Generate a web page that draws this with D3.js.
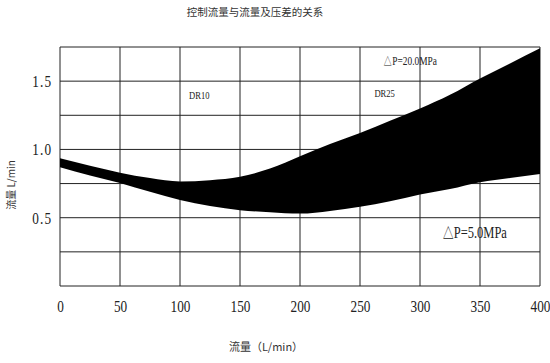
<!DOCTYPE html>
<html lang="zh">
<head>
<meta charset="utf-8">
<title>控制流量与流量及压差的关系</title>
<script src="https://d3js.org/d3.v7.min.js"></script>
<style>
  body { margin: 0; background: #fff; }
  .num { font-family: "Liberation Serif", serif; fill: #222; }
  .cjk { font-family: "Noto Sans CJK SC", sans-serif; fill: #333; }
</style>
</head>
<body>
<div id="chart"></div>
<script>
// flow (L/min) along the bottom
var flow = [0, 25, 50, 75, 100, 125, 150, 175, 200, 225, 250, 275, 300, 325, 350, 375, 400];
// control flow at dP = 5.0 MPa (lower edge) and dP = 20.0 MPa (upper edge)
var lowEdge  = [0.87, 0.81, 0.755, 0.69, 0.63, 0.585, 0.555, 0.54, 0.53, 0.55, 0.58, 0.62, 0.67, 0.71, 0.76, 0.79, 0.82];
var highEdge = [0.935, 0.88, 0.83, 0.79, 0.765, 0.775, 0.80, 0.86, 0.95, 1.04, 1.12, 1.21, 1.30, 1.40, 1.52, 1.63, 1.74];
var xTicks = [0, 50, 100, 150, 200, 250, 300, 350, 400];
var yGrid = [0, 0.25, 0.5, 0.75, 1.0, 1.25, 1.5, 1.75];
var yLabels = [0.5, 1.0, 1.5];

var W = 550, H = 363;
var margin = {top: 47, right: 10, bottom: 77, left: 60},
    width = 540 - margin.left,
    height = H - margin.top - margin.bottom;

var svg = d3.select("#chart").append("svg")
    .attr("width", W).attr("height", H);
var g = svg.append("g")
    .attr("transform", "translate(" + margin.left + "," + margin.top + ")");

var x = d3.scaleLinear().domain([0, 400]).range([0, width]);
var y = d3.scaleLinear().domain([0, 1.75]).range([height, 0]);

// grid
g.append("g").selectAll("line").data(xTicks).join("line")
    .attr("x1", d => x(d)).attr("x2", d => x(d))
    .attr("y1", 0).attr("y2", height)
    .attr("stroke", "#222").attr("stroke-width", 1);
g.append("g").selectAll("line").data(yGrid).join("line")
    .attr("x1", 0).attr("x2", width)
    .attr("y1", d => y(d)).attr("y2", d => y(d))
    .attr("stroke", "#222").attr("stroke-width", 1);

// band
var pts = flow.map((f, i) => ({f: f, lo: lowEdge[i], hi: highEdge[i]}));
var area = d3.area()
    .x(d => x(d.f))
    .y0(d => y(d.lo))
    .y1(d => y(d.hi))
    .curve(d3.curveMonotoneX);
g.append("path").datum(pts).attr("d", area).attr("fill", "#000");

// x axis labels
var xAxis = g.append("g")
    .attr("transform", "translate(0," + height + ")")
    .call(d3.axisBottom(x).tickValues(xTicks).tickSize(0).tickPadding(14).tickFormat(d3.format("d")));
xAxis.select(".domain").remove();
xAxis.selectAll("text")
    .attr("class", "num")
    .style("font-size", "17px")
    .attr("transform", "scale(0.78,1)");

// y axis labels
var yAxis = g.append("g")
    .call(d3.axisLeft(y).tickValues(yLabels).tickSize(0).tickPadding(0).tickFormat(d3.format(".1f")));
yAxis.select(".domain").remove();
yAxis.selectAll("text")
    .attr("class", "num")
    .style("font-size", "17px")
    .attr("x", -10)
    .attr("letter-spacing", "1.5")
    .attr("transform", "scale(0.78,1)");

// annotations
function note(txt, px, py, size) {
  g.append("text").attr("class", "num")
    .attr("transform", "translate(" + px + "," + py + ") scale(0.78,1)")
    .style("font-size", size + "px")
    .text(txt);
}
note("DR10", x(107.5), y(1.40) + 4, 11);
note("DR25", x(262), y(1.41) + 4, 11);
note("△P=20.0MPa", x(269), y(1.65) + 4, 12);
note("△P=5.0MPa", x(318), y(0.39) + 5, 16);

// titles
svg.append("text").attr("class", "cjk")
    .attr("x", 255).attr("y", 16)
    .attr("text-anchor", "middle")
    .style("font-size", "10.5px")
    .text("控制流量与流量及压差的关系");
svg.append("text").attr("class", "cjk")
    .attr("x", 266).attr("y", 351)
    .attr("text-anchor", "middle")
    .style("font-size", "11px")
    .text("流量（L/min）");
svg.append("text").attr("class", "cjk")
    .attr("transform", "translate(15,185) rotate(-90)")
    .attr("text-anchor", "middle")
    .style("font-size", "10px")
    .text("流量 L/min");
</script>
</body>
</html>
